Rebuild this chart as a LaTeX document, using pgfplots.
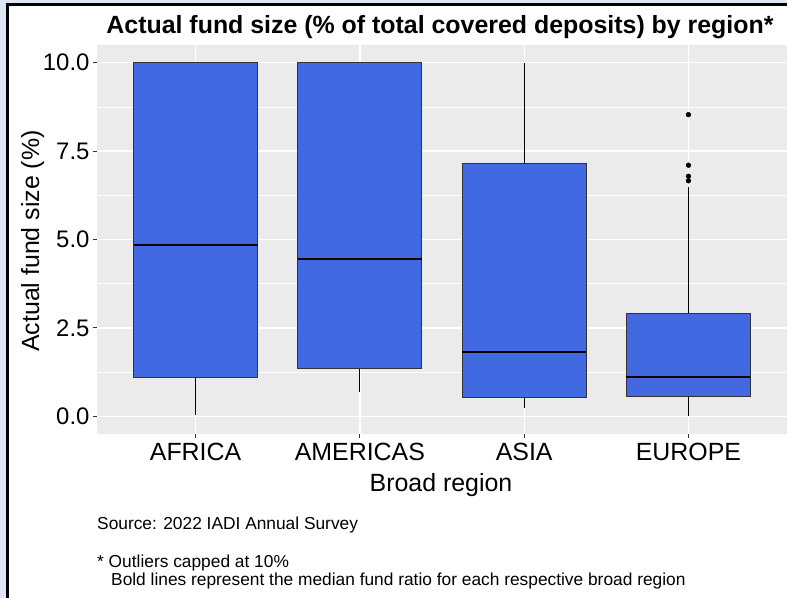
\documentclass[border=0pt]{standalone}
\usepackage{pgfplots}
\pgfplotsset{compat=1.18}
\usepgfplotslibrary{statistics}
\usepackage{fontspec}
\setmainfont{Liberation Sans}
\definecolor{outerblue}{HTML}{DDE7F3}
\definecolor{panelgray}{HTML}{EBEBEB}
\definecolor{royal}{HTML}{4169E1}
\definecolor{grey20}{HTML}{333333}
\begin{document}
\begin{tikzpicture}[x=1bp,y=1bp]
\useasboundingbox (0,0) rectangle (787,598);
\fill[outerblue] (0,0) rectangle (787,598);
\fill[white] (7.5,0) rectangle (787,593.5);
\draw[line width=2.2bp] (7.5,0) -- (7.5,593.5) -- (787,593.5);
\begin{axis}[
  at={(97bp,164bp)}, anchor=south west,
  scale only axis, width=690bp, height=389bp,
  xmin=0.4, xmax=4.6, ymin=-0.5, ymax=10.5,
  axis background/.style={fill=panelgray},
  axis line style={draw=none},
  xtick={1,2,3,4}, xticklabels={AFRICA,AMERICAS,ASIA,EUROPE},
  ytick={0,2.5,5,7.5,10}, yticklabels={0.0,2.5,5.0,7.5,10.0},
  minor ytick={1.25,3.75,6.25,8.75},
  xmajorgrids, ymajorgrids, yminorgrids,
  major grid style={white, line width=1.3bp},
  minor grid style={white, line width=0.65bp},
  tick align=outside, xtick pos=bottom, ytick pos=left,
  major tick length=4bp, minor tick length=0pt,
  tick style={grey20, line width=0.9bp},
  xticklabel style={font=\fontsize{25}{25}\selectfont, text=black, yshift=-2bp},
  yticklabel style={font=\fontsize{24}{24}\selectfont, text=black},
  boxplot/draw direction=y,
  boxplot/box extend=0.755,
  boxplot/whisker extend=0,
  boxplot/every median/.style={black, line width=2.2bp},
  boxplot/every whisker/.style={black, line width=1bp},
  boxplot/every box/.style={fill=royal, draw=grey20, line width=1.1bp},
]
\addplot[boxplot prepared={draw position=1, lower whisker=0.03, lower quartile=1.09, median=4.84, upper quartile=10, upper whisker=10}] coordinates {};
\addplot[boxplot prepared={draw position=2, lower whisker=0.70, lower quartile=1.34, median=4.44, upper quartile=10, upper whisker=10}] coordinates {};
\addplot[boxplot prepared={draw position=3, lower whisker=0.23, lower quartile=0.53, median=1.82, upper quartile=7.16, upper whisker=10}] coordinates {};
\addplot[boxplot prepared={draw position=4, lower whisker=0.02, lower quartile=0.55, median=1.11, upper quartile=2.90, upper whisker=6.48}] coordinates {};
\addplot[only marks, mark=*, mark size=2.4bp, black] coordinates {(4,8.53) (4,7.10) (4,6.79) (4,6.66)};
\end{axis}
\node[anchor=base, font=\bfseries\fontsize{25}{25}\selectfont] at (440,564.5) {Actual fund size (\% of total covered deposits) by region*};
\node[anchor=base, font=\fontsize{25}{25}\selectfont] at (441,106.3) {Broad region};
\node[anchor=base, rotate=90, font=\fontsize{25}{25}\selectfont] at (39,357) {Actual fund size (\%)};
\node[anchor=base west, inner sep=0pt, font=\fontsize{17.4}{17.4}\selectfont] at (97,68) {Source: 2022 IADI Annual Survey};
\node[anchor=base west, inner sep=0pt, font=\fontsize{17.4}{17.4}\selectfont] at (97,30) {* Outliers capped at 10\%};
\node[anchor=base west, inner sep=0pt, font=\fontsize{17.4}{17.4}\selectfont] at (111,12) {Bold lines represent the median fund ratio for each respective broad region};
\end{tikzpicture}
\end{document}
